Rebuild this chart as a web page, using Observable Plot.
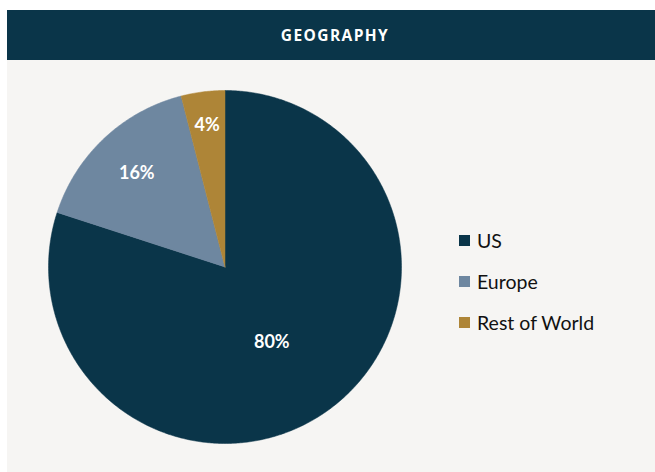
<!DOCTYPE html>
<html><head><meta charset="utf-8">
<script src="https://cdn.jsdelivr.net/npm/d3@7"></script>
<script src="https://cdn.jsdelivr.net/npm/@observablehq/plot@0.6"></script>
<style>
html,body{margin:0;padding:0;background:#ffffff;width:655px;height:472px;overflow:hidden;font-family:Lato,"Open Sans",sans-serif;}
#wrap{position:absolute;left:7px;top:10px;width:648px;height:462px;background:#f6f5f3;}
#hdr{height:50px;background:#0a3549;color:#fff;font-weight:700;font-size:15.5px;letter-spacing:1.4px;display:flex;align-items:center;justify-content:center;padding-left:8px;box-sizing:border-box;font-family:"Open Sans",Lato,sans-serif;}
#chart{position:absolute;left:0;top:50px;}
#legend{position:absolute;left:452px;top:210px;}
.row{display:flex;align-items:center;height:41px;font-size:19.5px;color:#111;}
.sw{width:11px;height:11px;margin-right:7px;}
</style></head>
<body>
<div id="wrap">
  <div id="hdr">GEOGRAPHY</div>
  <div id="chart"></div>
  <div id="legend"></div>
</div>
<script>
const categories = ["US", "Europe", "Rest of World"];
const shares = [80, 16, 4];
const labels = ["80%", "16%", "4%"];
const colors = ["#0a3549", "#6e87a0", "#ae8537"];
const labelRadius = [0.5, 0.73, 0.81];

const pie = d3.pie().sort(null).value(d => d.share)
  (categories.map((c, i) => ({category: c, share: shares[i], label: labels[i], lr: labelRadius[i]})));

const pts = [];
pie.forEach(p => {
  const c = p.data.category;
  pts.push({category: c, x: 0, y: 0});
  const n = Math.max(8, Math.ceil((p.endAngle - p.startAngle) / (Math.PI / 360)));
  for (let k = 0; k <= n; k++) {
    const a = p.startAngle + (p.endAngle - p.startAngle) * k / n;
    pts.push({category: c, x: Math.sin(a), y: Math.cos(a)});
  }
  pts.push({category: c, x: 0, y: 0});
});
const lbl = pie.map(p => {
  const a = (p.startAngle + p.endAngle) / 2 + (p.data.category === "US" ? 0.07 : 0);
  return {label: p.data.label, x: p.data.lr * Math.sin(a), y: p.data.lr * Math.cos(a)};
});

const chart = Plot.plot({
  width: 648, height: 412,
  marginLeft: 41, marginRight: 254, marginTop: 30, marginBottom: 29,
  x: {domain: [-1, 1], axis: null},
  y: {domain: [-1, 1], axis: null},
  color: {domain: categories, range: colors},
  style: {background: "transparent", overflow: "visible"},
  marks: [
    Plot.line(pts, {x: "x", y: "y", z: "category", fill: "category", stroke: "category", strokeWidth: 0.5, curve: "linear"}),
    Plot.text(lbl, {x: "x", y: "y", text: "label", fill: "white", fontSize: 18, fontWeight: "bold", fontFamily: "Lato, 'Open Sans', sans-serif"})
  ]
});
document.getElementById("chart").appendChild(chart);

const lg = document.getElementById("legend");
categories.forEach((c, i) => {
  const r = document.createElement("div"); r.className = "row";
  const s = document.createElement("div"); s.className = "sw"; s.style.background = colors[i];
  const t = document.createElement("span"); t.textContent = c;
  r.appendChild(s); r.appendChild(t); lg.appendChild(r);
});
</script>
</body></html>
